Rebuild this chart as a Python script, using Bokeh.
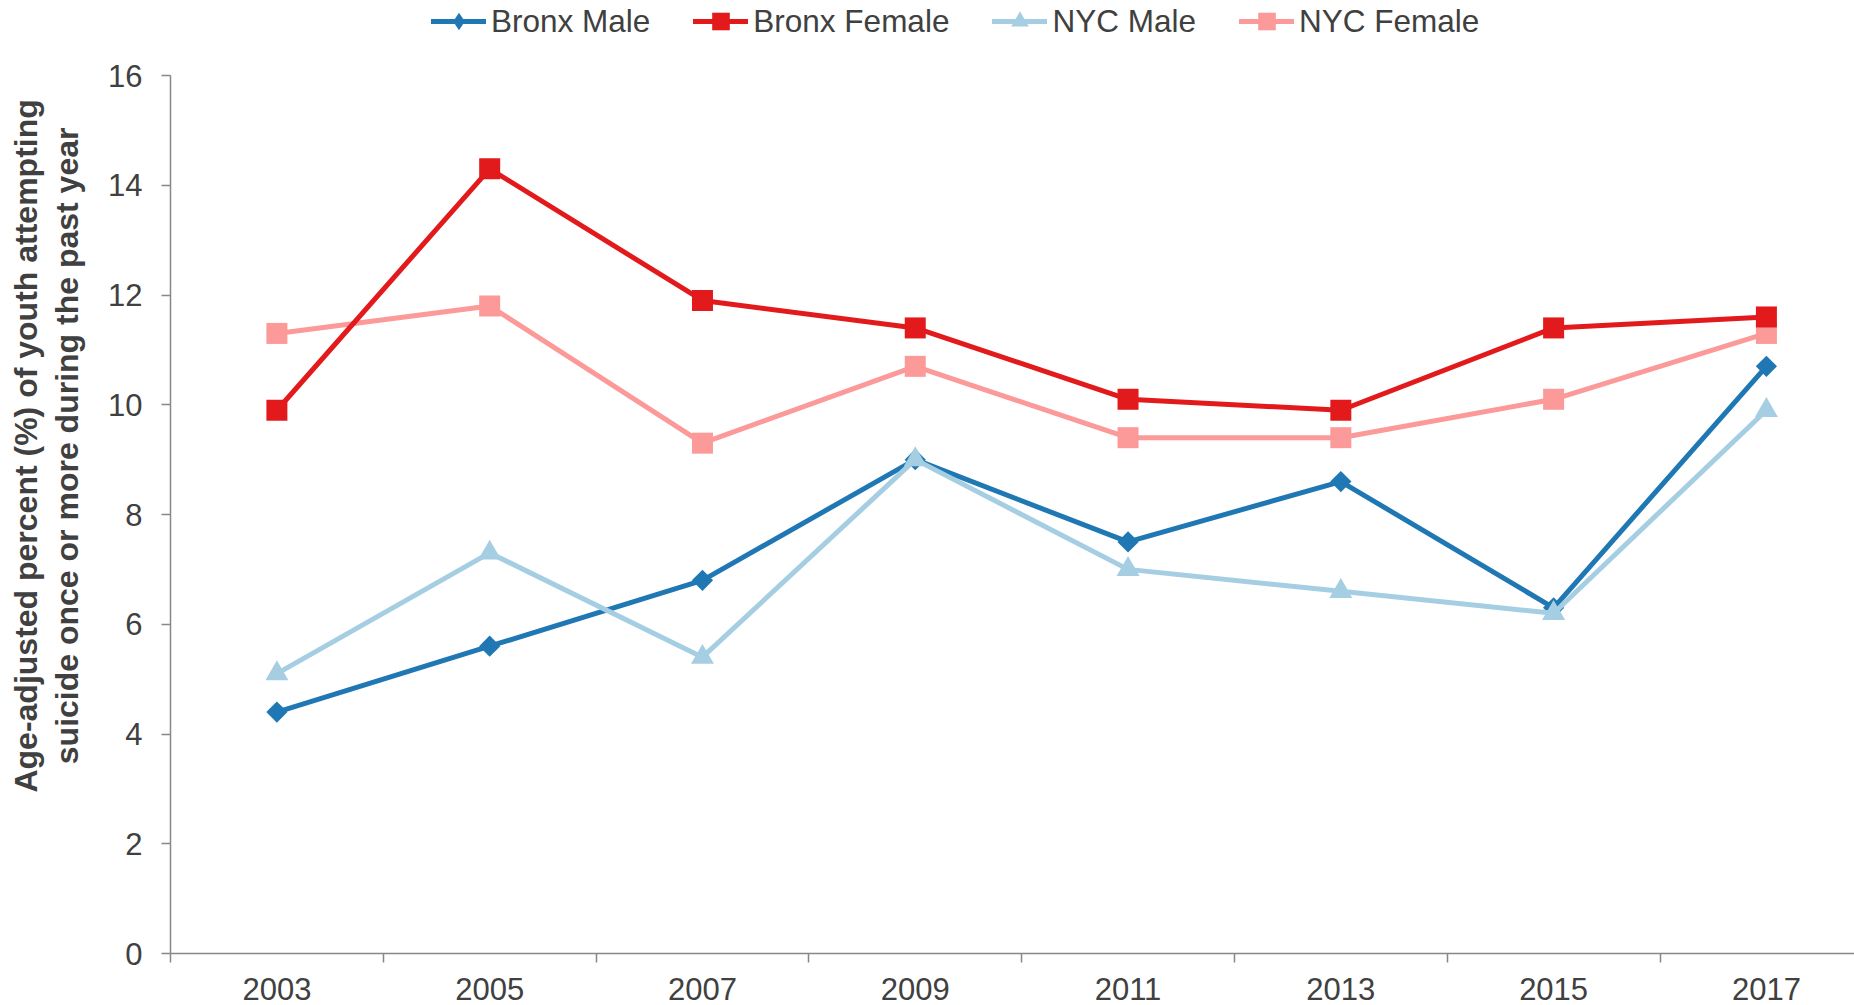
import numpy as np
from bokeh.plotting import figure
from bokeh.models import Range1d, FixedTicker, Legend, LegendItem
from bokeh.embed import file_html
from bokeh.resources import INLINE

years = ["2003", "2005", "2007", "2009", "2011", "2013", "2015", "2017"]
bronx_male = [4.4, 5.6, 6.8, 9.0, 7.5, 8.6, 6.3, 10.7]
bronx_female = [9.9, 14.3, 11.9, 11.4, 10.1, 9.9, 11.4, 11.6]
nyc_male = [5.1, 7.3, 5.4, 9.0, 7.0, 6.6, 6.2, 9.9]
nyc_female = [11.3, 11.8, 9.3, 10.7, 9.4, 9.4, 10.1, 11.3]
y_ticks = [0, 2, 4, 6, 8, 10, 12, 14, 16]
title_lines = ["Age-adjusted percent (%) of youth attempting",
               "suicide once or more during the past year"]

FONT = "Liberation Sans"
TXT = "#404040"
AX = "#878787"

xs = [i + 0.5 for i in range(len(years))]

# frame reaches the top of the page so that the legend can sit inside it;
# the y axis itself is bounded to 0..16
p = figure(width=1854, height=1005, output_backend="svg", toolbar_location=None,
           x_range=Range1d(0, 7.914), y_range=Range1d(0, 17.367),
           min_border_left=170, min_border_right=0, min_border_top=0, min_border_bottom=52)
p.outline_line_color = None
p.grid.grid_line_color = None
p.background_fill_color = "white"

# x axis: category labels at centres, tick marks at boundaries
p.xaxis.ticker = FixedTicker(ticks=xs, minor_ticks=list(range(len(years) + 1)))
p.xaxis.major_label_overrides = {x: y for x, y in zip(xs, years)}
p.xaxis.major_tick_out = 0
p.xaxis.major_tick_in = 0
p.xaxis.minor_tick_out = 9
p.xaxis.minor_tick_in = 0
p.xaxis.minor_tick_line_color = AX
p.xaxis.minor_tick_line_width = 1.5
p.xaxis.major_label_standoff = 15

p.yaxis.ticker = FixedTicker(ticks=y_ticks, minor_ticks=[])
p.yaxis.bounds = (0, 16)
p.yaxis.major_tick_out = 9
p.yaxis.major_tick_in = 0
p.yaxis.major_label_standoff = 19
# leading no-break spaces shift the (centred) title upward, as in the reference
pad = "\u00a0" * 7
p.yaxis.axis_label = "\n".join(pad + t for t in title_lines)
p.yaxis.axis_label_text_font = FONT
p.yaxis.axis_label_text_font_size = "32px"
p.yaxis.axis_label_text_font_style = "bold"
p.yaxis.axis_label_text_color = TXT
p.yaxis.axis_label_text_line_height = 1.15
p.yaxis.axis_label_standoff = 20

for ax in (p.xaxis, p.yaxis):
    ax.axis_line_color = AX
    ax.axis_line_width = 1.5
    ax.major_tick_line_color = AX
    ax.major_tick_line_width = 1.5
    ax.major_label_text_font = FONT
    ax.major_label_text_font_size = "31px"
    ax.major_label_text_color = TXT

# (name, values, colour, plot marker, size, angle, legend marker, legend size)
series = [
    ("Bronx Male", bronx_male, "#1f78b4", "square", 15, np.pi / 4, "diamond", 18),
    ("NYC Male", nyc_male, "#a6cee3", "triangle", 23, 0, None, None),
    ("NYC Female", nyc_female, "#fb9a99", "square", 21, 0, None, None),
    ("Bronx Female", bronx_female, "#e31a1c", "square", 21, 0, None, None),
]
items = {}
for name, vals, color, marker, size, ang, lmarker, lsize in series:
    lr = p.line(xs, vals, line_color=color, line_width=5, line_join="round", line_cap="round")
    rs = [lr]
    if lmarker is not None:
        # drawn first and fully covered by the rotated square; gives the legend its diamond
        rs.append(p.scatter(xs, vals, marker=lmarker, size=lsize,
                            fill_color=color, line_color=color, line_width=0))
    sr = p.scatter(xs, vals, marker=marker, size=size, angle=ang,
                   fill_color=color, line_color=color, line_width=0)
    if lmarker is None:
        rs.append(sr)
    items[name] = LegendItem(label=name, renderers=rs)

legend = Legend(items=[items[n] for n in ["Bronx Male", "Bronx Female", "NYC Male", "NYC Female"]],
                orientation="horizontal", location=(261, 910),
                label_text_font=FONT, label_text_font_size="31.5px", label_text_color=TXT,
                glyph_width=55, glyph_height=44, label_height=30, label_standoff=5,
                spacing=43, padding=0, margin=0, border_line_color=None,
                background_fill_alpha=0)
p.add_layout(legend, "center")

open("out.html", "w").write(file_html(p, INLINE))
